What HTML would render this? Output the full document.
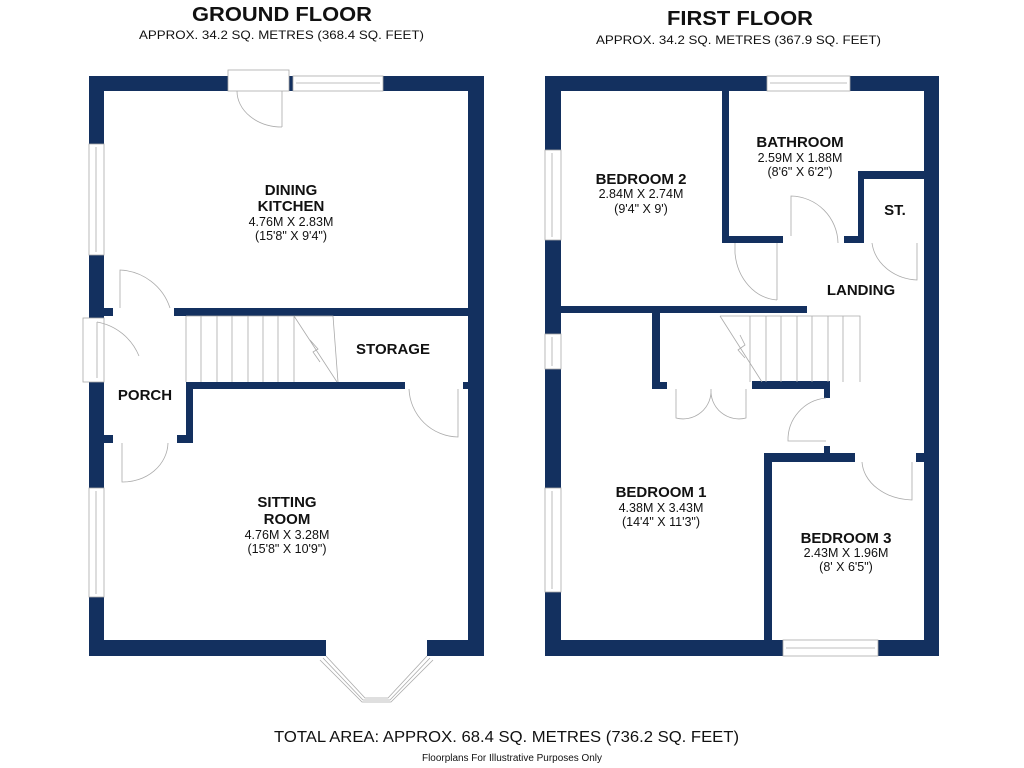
<!DOCTYPE html>
<html><head><meta charset="utf-8"><style>
html,body{margin:0;padding:0;background:#fff;}
svg{display:block;}
text{font-family:"Liberation Sans",sans-serif;fill:#111;}
.b{font-weight:bold;font-size:15px;}
.n{font-size:12.5px;}
</style></head><body>
<svg width="1024" height="768" viewBox="0 0 1024 768" xmlns="http://www.w3.org/2000/svg">
<rect width="1024" height="768" fill="#fff"/>
<!-- titles -->
<text x="192" y="21" class="b" font-size="20" textLength="180" lengthAdjust="spacingAndGlyphs" style="font-size:20px">GROUND FLOOR</text>
<text x="139" y="39" font-size="12" textLength="285" lengthAdjust="spacingAndGlyphs">APPROX. 34.2 SQ. METRES (368.4 SQ. FEET)</text>
<text x="667" y="25" class="b" textLength="146" lengthAdjust="spacingAndGlyphs" style="font-size:20px">FIRST FLOOR</text>
<text x="596" y="44" font-size="12" textLength="285" lengthAdjust="spacingAndGlyphs">APPROX. 34.2 SQ. METRES (367.9 SQ. FEET)</text>
<text x="274" y="742" font-size="16" textLength="465" lengthAdjust="spacingAndGlyphs">TOTAL AREA: APPROX. 68.4 SQ. METRES (736.2 SQ. FEET)</text>
<text x="422" y="761" font-size="10" textLength="180" lengthAdjust="spacingAndGlyphs">Floorplans For Illustrative Purposes Only</text>

<g fill="#13305f">
<!-- GROUND FLOOR walls -->
<rect x="89" y="76" width="139" height="15"/>
<rect x="289" y="76" width="4" height="15"/>
<rect x="383" y="76" width="101" height="15"/>
<rect x="468" y="76" width="16" height="580"/>
<rect x="89" y="76" width="15" height="68"/>
<rect x="89" y="255" width="15" height="63"/>
<rect x="104" y="308" width="9" height="8"/>
<rect x="89" y="382" width="15" height="106"/>
<rect x="89" y="597" width="15" height="59"/>
<rect x="89" y="640" width="237" height="16"/>
<rect x="427" y="640" width="57" height="16"/>
<rect x="174" y="308" width="294" height="8"/>
<rect x="186" y="382" width="219" height="7"/>
<rect x="186" y="382" width="7" height="61"/>
<rect x="177" y="435" width="16" height="8"/>
<rect x="104" y="435" width="9" height="8"/>
<rect x="463" y="382" width="5" height="7"/>
<!-- FIRST FLOOR walls -->
<rect x="545" y="76" width="222" height="15"/>
<rect x="850" y="76" width="89" height="15"/>
<rect x="924" y="76" width="15" height="580"/>
<rect x="545" y="76" width="16" height="74"/>
<rect x="545" y="240" width="16" height="94"/>
<rect x="545" y="369" width="16" height="119"/>
<rect x="545" y="592" width="16" height="64"/>
<rect x="545" y="640" width="238" height="16"/>
<rect x="878" y="640" width="61" height="16"/>
<rect x="722" y="91" width="7" height="152"/>
<rect x="722" y="236" width="61" height="7"/>
<rect x="844" y="236" width="20" height="7"/>
<rect x="858" y="171" width="6" height="72"/>
<rect x="858" y="171" width="66" height="8"/>
<rect x="561" y="306" width="246" height="7"/>
<rect x="652" y="313" width="8" height="76"/>
<rect x="652" y="382" width="15" height="7"/>
<rect x="752" y="381" width="78" height="8"/>
<rect x="824" y="381" width="6" height="17"/>
<rect x="764" y="453" width="91" height="9"/>
<rect x="764" y="453" width="8" height="187"/>
<rect x="916" y="453" width="8" height="9"/>
<rect x="824" y="446" width="6" height="7"/>
</g>

<g fill="none" stroke="#aaa" stroke-width="0.8">
<!-- GF windows -->
<rect x="293" y="76" width="90" height="15"/><line x1="296" y1="83" x2="380" y2="83"/>
<rect x="228" y="70" width="61" height="21"/>
<rect x="89" y="144" width="15" height="111"/><line x1="96" y1="147" x2="96" y2="252"/>
<rect x="89" y="488" width="15" height="109"/><line x1="96" y1="491" x2="96" y2="594"/>
<rect x="83" y="318" width="21" height="64"/>
<!-- kitchen door -->
<path d="M282 91 V127 M237 91 A45 36 0 0 0 282 127"/>
<!-- porch doors -->
<path d="M120 308 V270 A55 55 0 0 1 170 308"/>
<path d="M97 322 V378 M97 322 A56 56 0 0 1 139 356"/>
<path d="M122 443 V482 A45 40 0 0 0 168 443"/>
<!-- storage door -->
<path d="M458 389 V437 A50 50 0 0 1 409 389"/>
<!-- GF stairs -->
<path d="M186 316 H333 L338 382 M186 316 V382"/>
<path d="M201 316V382 M217 316V382 M232 316V382 M248 316V382 M263 316V382 M278 316V382 M294 316V382 M294 316 L337 382 M310 340 L318 349 L313 352 L320 362"/>
<!-- bay window -->
<path d="M326 656 L365 698 H388 L427 656 M320 660 L362 702 H391 L433 660 M323 658 L363 700 H390 L430 658"/>
<!-- FF windows -->
<rect x="767" y="76" width="83" height="15"/><line x1="770" y1="83" x2="847" y2="83"/>
<rect x="545" y="150" width="16" height="90"/><line x1="552" y1="153" x2="552" y2="237"/>
<rect x="545" y="334" width="16" height="35"/><line x1="552" y1="337" x2="552" y2="366"/>
<rect x="545" y="488" width="16" height="104"/><line x1="552" y1="491" x2="552" y2="589"/>
<rect x="783" y="640" width="95" height="16"/><line x1="786" y1="648" x2="875" y2="648"/>
<!-- FF doors -->
<path d="M791 236 V196 A48 48 0 0 1 838 243"/>
<path d="M777 243 V300 M777 300 A45 52 0 0 1 735 253 V243"/>
<path d="M917 243 V280 A48 42 0 0 1 872 243"/>
<!-- double doors bedroom 1 -->
<path d="M676 389 V418 A28 28 0 0 0 711 389 M746 389 V418 A28 28 0 0 1 711 389"/>
<!-- bedroom 1 landing door -->
<path d="M826 398 A42 42 0 0 0 788 441 H826"/>
<!-- bedroom 3 door -->
<path d="M912 462 V500 A52 40 0 0 1 862 462"/>
<!-- FF stairs -->
<path d="M720 316 H860 V382 M720 316 L762 382"/>
<path d="M750 316V382 M766 316V382 M781 316V382 M797 316V382 M812 316V382 M828 316V382 M843 316V382 M740 335 L745 345 L738 350 L745 358"/>
</g>

<!-- labels -->
<g text-anchor="middle">
<text x="291" y="195" class="b">DINING</text>
<text x="291" y="211" class="b">KITCHEN</text>
<text x="291" y="226" class="n">4.76M X 2.83M</text>
<text x="291" y="240" class="n">(15'8" X 9'4")</text>
<text x="393" y="354" class="b">STORAGE</text>
<text x="145" y="400" class="b">PORCH</text>
<text x="287" y="507" class="b">SITTING</text>
<text x="287" y="524" class="b">ROOM</text>
<text x="287" y="539" class="n">4.76M X 3.28M</text>
<text x="287" y="553" class="n">(15'8" X 10'9")</text>
<text x="641" y="184" class="b">BEDROOM 2</text>
<text x="641" y="198" class="n">2.84M X 2.74M</text>
<text x="641" y="213" class="n">(9'4" X 9')</text>
<text x="800" y="147" class="b">BATHROOM</text>
<text x="800" y="162" class="n">2.59M X 1.88M</text>
<text x="800" y="176" class="n">(8'6" X 6'2")</text>
<text x="895" y="215" class="b">ST.</text>
<text x="861" y="295" class="b">LANDING</text>
<text x="661" y="497" class="b">BEDROOM 1</text>
<text x="661" y="512" class="n">4.38M X 3.43M</text>
<text x="661" y="526" class="n">(14'4" X 11'3")</text>
<text x="846" y="543" class="b">BEDROOM 3</text>
<text x="846" y="557" class="n">2.43M X 1.96M</text>
<text x="846" y="571" class="n">(8' X 6'5")</text>
</g>
</svg>
</body></html>
